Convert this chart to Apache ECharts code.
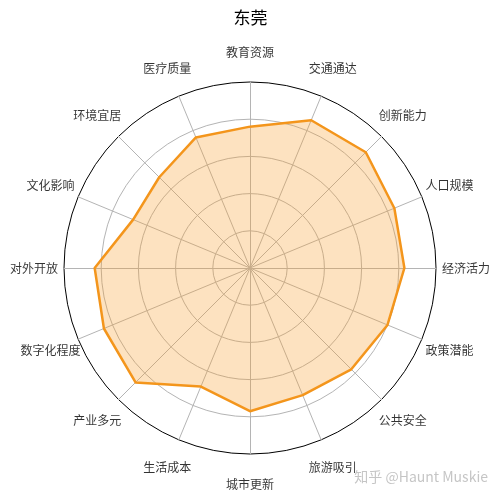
<!DOCTYPE html>
<html>
<head>
<meta charset="utf-8">
<script src="https://cdn.jsdelivr.net/npm/echarts@6/dist/echarts.min.js"></script>
<style>html,body{margin:0;padding:0;background:#fff}#c{width:501px;height:500px}</style>
</head>
<body>
<div id="c"></div>
<script>
// Indicators listed clockwise from the top
const indicators = ['教育资源','交通通达','创新能力','人口规模','经济活力','政策潜能','公共安全','旅游吸引',
  '城市更新','生活成本','产业多元','数字化程度','对外开放','文化影响','环境宜居','医疗质量'];
const values = [7.6, 8.6, 8.8, 8.4, 8.3, 8.0, 7.7, 7.4, 7.7, 6.9, 8.7, 8.5, 8.35, 6.8, 6.9, 7.6];
const maxValue = 10;
const titleText = '东莞';
const watermark = '知乎 @Haunt Muskie';

// ECharts radar runs counter-clockwise; reorder so it reads clockwise
const order = indicators.map((_, i) => (indicators.length - i) % indicators.length);
const radarIndicators = order.map(i => ({ name: indicators[i], max: maxValue, min: 0 }));
const radarValues = order.map(i => values[i]);

const CENTER = [250, 268];
const RADIUS = 186;
const LABEL_RADIUS = 216;
const n = indicators.length;

const chart = echarts.init(document.getElementById('c'));
chart.setOption({
  animation: false,
  backgroundColor: '#fff',
  title: {
    text: titleText, left: 'center', top: 4,
    textStyle: { fontSize: 17, fontWeight: 'normal', color: '#000', fontFamily: 'Noto Sans CJK SC' }
  },
  radar: {
    center: CENTER, radius: RADIUS, shape: 'circle', splitNumber: 5, startAngle: 90,
    indicator: radarIndicators,
    axisName: { show: false },
    axisLine: { lineStyle: { color: '#b4b4b4', width: 1 } },
    splitLine: { lineStyle: { color: ['#b4b4b4','#b4b4b4','#b4b4b4','#b4b4b4','#b4b4b4','#000'], width: 1 } },
    splitArea: { show: false }
  },
  polar: { center: CENTER, radius: LABEL_RADIUS },
  radiusAxis: { min: 0, max: 1, show: false },
  angleAxis: { type: 'category', data: indicators, startAngle: 90 + 180 / n, clockwise: true, show: false },
  series: [
    {
      type: 'radar',
      symbol: 'none',
      lineStyle: { color: '#F39419', width: 2.5 },
      areaStyle: { color: '#F8A030', opacity: 0.3 },
      data: [{ value: radarValues, name: titleText }]
    },
    {
      type: 'scatter',
      coordinateSystem: 'polar',
      symbolSize: 1,
      silent: true,
      itemStyle: { color: 'rgba(0,0,0,0)' },
      data: indicators.map((name, i) => ({ name: name, value: [1, i] })),
      label: {
        show: true, position: 'inside', formatter: '{b}',
        fontSize: 12, color: '#000', fontFamily: 'Noto Sans CJK SC'
      }
    }
  ],
  graphic: [{
    type: 'text', right: 13, top: 470,
    style: { text: watermark, fontSize: 14, fill: 'rgba(150,150,150,0.55)', fontFamily: 'Noto Sans CJK SC' }
  }]
});
</script>
</body>
</html>
